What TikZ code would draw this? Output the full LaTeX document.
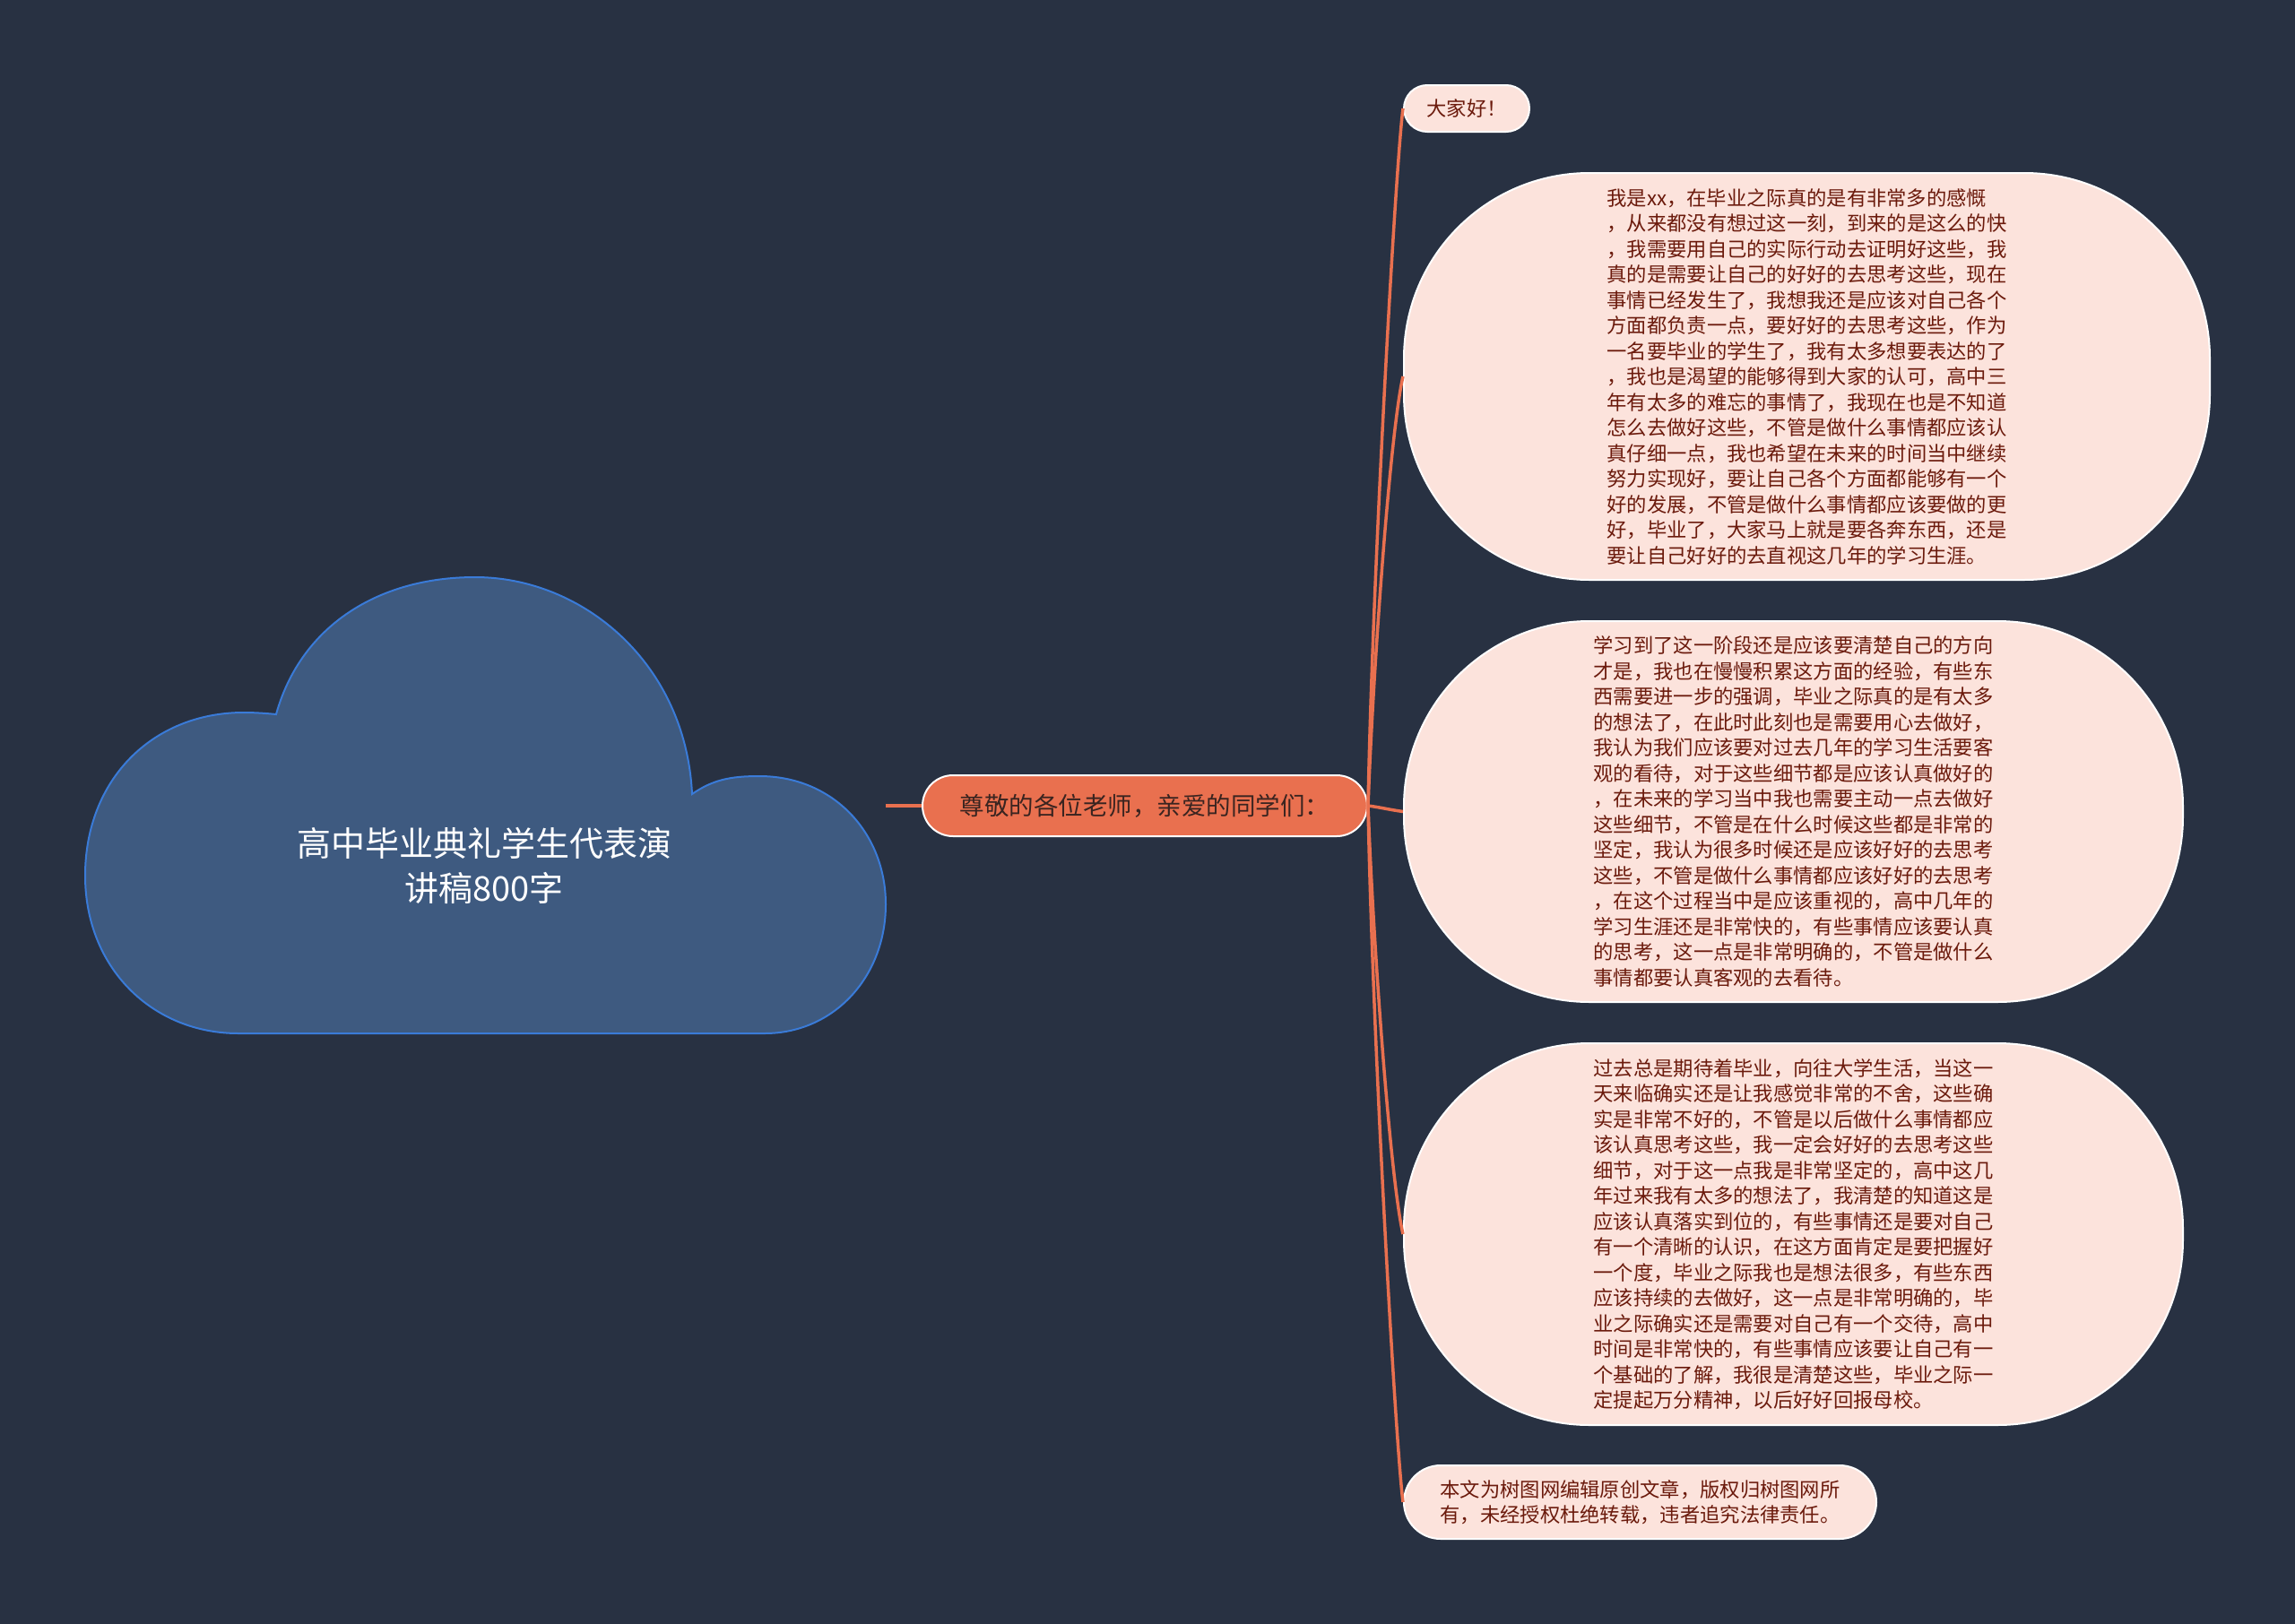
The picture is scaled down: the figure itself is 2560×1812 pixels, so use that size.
\documentclass[tikz,border=0pt]{standalone}
\usepackage{fontspec}
\setmainfont{Noto Sans CJK SC}
\usetikzlibrary{calc}
\definecolor{bg}{HTML}{283142}
\definecolor{cloudfill}{HTML}{3E5A80}
\definecolor{cloudline}{HTML}{3A7BD8}
\definecolor{accent}{HTML}{E9704F}
\definecolor{leaffill}{HTML}{FCE3DC}
\definecolor{leaftext}{HTML}{6B1A0C}
\definecolor{maintext}{HTML}{3A2420}
\begin{document}
\begin{tikzpicture}[x=1pt,y=-1pt,
  leaf/.style={draw=white, line width=2pt, fill=leaffill, text=leaftext, inner sep=0pt,
    align=left, font=\fontsize{22.3}{28.5}\selectfont},
  bigleaf/.style={leaf, rounded corners=207pt},
  mainbox/.style={draw=white, line width=2pt, fill=accent, text=maintext, inner sep=0pt,
    rounded corners=34pt, minimum width=496pt, minimum height=68pt,
    font=\fontsize{27.5}{33}\selectfont},
  conn/.style={draw=accent, line width=3.5pt},
  cloudshape/.style={fill=cloudfill, draw=cloudline, line width=2pt},
  roottext/.style={text=white, align=center, font=\fontsize{38}{50}\selectfont}]
\useasboundingbox (0,0) rectangle (2560,1812);
\fill[bg] (0,0) rectangle (2560,1812);

% cloud
\draw[cloudshape] (308,797) .. controls (335,700) and (420,644) .. (530,644)
  .. controls (650,644) and (765,740) .. (772,886)
  .. controls (795,870) and (815,866) .. (847,866)
  .. controls (930,866) and (988,930) .. (988,1009)
  .. controls (988,1090) and (930,1153) .. (853,1153)
  -- (266,1153)
  .. controls (170,1153) and (95,1080) .. (95,977)
  .. controls (95,870) and (170,795) .. (272,795)
  .. controls (285,795) and (298,796) .. (308,797) -- cycle;
\node[roottext] (root) at (540,966) {高中毕业典礼学生代表演\\讲稿800字};
\coordinate (cr) at (988,899);

% main node
\node[mainbox] (main) at (1277,899) {尊敬的各位老师，亲爱的同学们：};

% leaves
\node[leaf, rounded corners=26pt, minimum width=140pt, minimum height=52pt] (n1) at (1636,121) {大家好！};

\node[bigleaf, minimum width=899pt, minimum height=454pt] (n2) at (2015.5,420) {我是xx，在毕业之际真的是有非常多的感慨\\
，从来都没有想过这一刻，到来的是这么的快\\
，我需要用自己的实际行动去证明好这些，我\\
真的是需要让自己的好好的去思考这些，现在\\
事情已经发生了，我想我还是应该对自己各个\\
方面都负责一点，要好好的去思考这些，作为\\
一名要毕业的学生了，我有太多想要表达的了\\
，我也是渴望的能够得到大家的认可，高中三\\
年有太多的难忘的事情了，我现在也是不知道\\
怎么去做好这些，不管是做什么事情都应该认\\
真仔细一点，我也希望在未来的时间当中继续\\
努力实现好，要让自己各个方面都能够有一个\\
好的发展，不管是做什么事情都应该要做的更\\
好，毕业了，大家马上就是要各奔东西，还是\\
要让自己好好的去直视这几年的学习生涯。};

\node[bigleaf, minimum width=869pt, minimum height=425pt] (n3) at (2000.5,905.5) {学习到了这一阶段还是应该要清楚自己的方向\\
才是，我也在慢慢积累这方面的经验，有些东\\
西需要进一步的强调，毕业之际真的是有太多\\
的想法了，在此时此刻也是需要用心去做好，\\
我认为我们应该要对过去几年的学习生活要客\\
观的看待，对于这些细节都是应该认真做好的\\
，在未来的学习当中我也需要主动一点去做好\\
这些细节，不管是在什么时候这些都是非常的\\
坚定，我认为很多时候还是应该好好的去思考\\
这些，不管是做什么事情都应该好好的去思考\\
，在这个过程当中是应该重视的，高中几年的\\
学习生涯还是非常快的，有些事情应该要认真\\
的思考，这一点是非常明确的，不管是做什么\\
事情都要认真客观的去看待。};

\node[bigleaf, minimum width=869pt, minimum height=426pt] (n4) at (2000.5,1377) {过去总是期待着毕业，向往大学生活，当这一\\
天来临确实还是让我感觉非常的不舍，这些确\\
实是非常不好的，不管是以后做什么事情都应\\
该认真思考这些，我一定会好好的去思考这些\\
细节，对于这一点我是非常坚定的，高中这几\\
年过来我有太多的想法了，我清楚的知道这是\\
应该认真落实到位的，有些事情还是要对自己\\
有一个清晰的认识，在这方面肯定是要把握好\\
一个度，毕业之际我也是想法很多，有些东西\\
应该持续的去做好，这一点是非常明确的，毕\\
业之际确实还是需要对自己有一个交待，高中\\
时间是非常快的，有些事情应该要让自己有一\\
个基础的了解，我很是清楚这些，毕业之际一\\
定提起万分精神，以后好好回报母校。};

\node[leaf, rounded corners=41pt, minimum width=527pt, minimum height=82pt] (n5) at (1829.5,1676) {本文为树图网编辑原创文章，版权归树图网所\\
有，未经授权杜绝转载，违者追究法律责任。};

% connectors
\draw[conn] (cr) -- (main.west);
\draw[conn] (main.east) .. controls ($(main.east)+(5,-260)$) and ($(n1.west)+(-8,60)$) .. (n1.west);
\draw[conn] (main.east) .. controls ($(main.east)+(6,-160)$) and ($(n2.west)+(-14,60)$) .. (n2.west);
\draw[conn] (main.east) .. controls ($(main.east)+(15,2)$) and ($(n3.west)+(-15,-2)$) .. (n3.west);
\draw[conn] (main.east) .. controls ($(main.east)+(6,160)$) and ($(n4.west)+(-14,-60)$) .. (n4.west);
\draw[conn] (main.east) .. controls ($(main.east)+(5,260)$) and ($(n5.west)+(-8,-60)$) .. (n5.west);
\end{tikzpicture}
\end{document}
